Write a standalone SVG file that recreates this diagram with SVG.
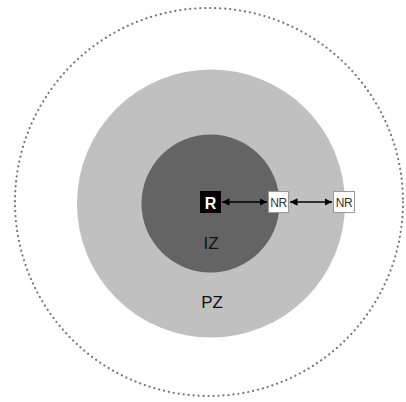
<svg xmlns="http://www.w3.org/2000/svg" width="406" height="402" viewBox="0 0 406 402">
<style>
.lbl{font-family:"Liberation Sans",Arial,sans-serif;fill:#111;font-size:17px;text-anchor:middle}
.nr{fill:#ffffff;stroke:#999;stroke-width:1}
.nrt{font-family:"Liberation Sans",Arial,sans-serif;font-size:12px;fill:#333;text-anchor:middle;letter-spacing:-0.5px}
.conn{stroke:#000;stroke-width:1.5;fill:none;marker-start:url(#ah);marker-end:url(#ah)}
</style>
<defs>
<marker id="ah" viewBox="0 0 10 10" refX="10" refY="5" markerWidth="5" markerHeight="5" orient="auto-start-reverse" markerUnits="strokeWidth">
<path d="M0,0 L10,5 L0,10 z" fill="#000"/>
</marker>
</defs>
<rect width="406" height="402" fill="#fff"/>
<g id="outer">
<circle cx="209" cy="202" r="194" fill="none" stroke="#777" stroke-width="2.2" stroke-dasharray="0.1 4.9" stroke-linecap="round"/>
</g>
<g id="PZ">
<circle cx="211" cy="203.5" r="134" fill="#c0c0c0"/>
<text class="lbl" x="212" y="308">PZ</text>
</g>
<g id="IZ">
<circle cx="210.5" cy="203.5" r="69" fill="#646464"/>
<text class="lbl" x="211" y="249">IZ</text>
</g>
<g id="R">
<rect x="200" y="191" width="21" height="22" fill="#000"/>
<text x="210.5" y="208.5" font-family="Liberation Sans,Arial,sans-serif" font-size="16" font-weight="bold" fill="#fff" text-anchor="middle">R</text>
</g>
<g id="NR1">
<rect class="nr" x="268.5" y="191.5" width="20" height="21"/>
<text class="nrt" x="278.5" y="206.5">NR</text>
</g>
<g id="NR2">
<rect class="nr" x="333.5" y="191.5" width="21" height="21"/>
<text class="nrt" x="344" y="206.5">NR</text>
</g>
<g id="connectors">
<line class="conn" x1="222" y1="202" x2="267" y2="202"/>
<line class="conn" x1="290" y1="202" x2="332" y2="202"/>
</g>
</svg>
